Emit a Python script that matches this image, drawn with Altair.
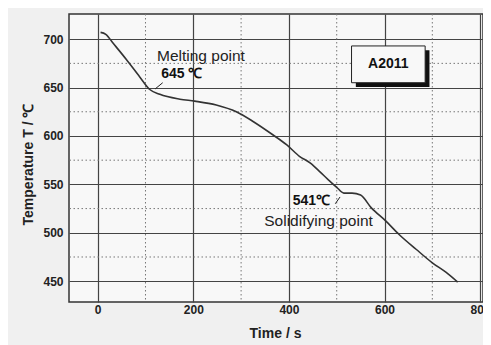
import altair as alt
import pandas as pd

# cooling curve of A2011
times = [6, 17, 32, 60, 88, 109, 130, 172, 203, 248, 290, 325, 367, 395, 422, 445, 465, 482, 500, 515, 532, 550, 572, 603, 631, 666, 700, 729, 753]
temps = [707, 705, 696, 679, 661, 648, 643, 638, 636, 632, 625, 615, 601, 591, 579, 572, 563, 555, 547, 541, 541, 539, 526, 512, 498, 483, 469, 459, 449]

x_major = [0, 200, 400, 600, 800]
x_minor = [100, 300, 500, 700]
y_major = [450, 500, 550, 600, 650, 700]
y_minor = [475, 525, 575, 625, 675]

ann_text = ["Melting point", "645 ℃", "541℃", "Solidifying point"]
ann_x = [216, 176, 447, 462]
ann_y = [683, 664, 533, 512]
ann_bold = [False, True, True, False]

arrow_x = [136, 120, 497, 507]
arrow_y = [655, 648.5, 530, 537]
arrow_id = ["m", "m", "s", "s"]

label_box = dict(x=531, x2=685, y=693, y2=655, text="A2011")

XDOM = [-60, 806]
YDOM = [428.5, 726]

xs = alt.Scale(domain=XDOM, nice=False, zero=False)
ys = alt.Scale(domain=YDOM, nice=False, zero=False)

curve = pd.DataFrame({"t": times, "T": temps})
gx = pd.DataFrame({"v": x_minor})
gy = pd.DataFrame({"v": y_minor})
ann = pd.DataFrame({"x": ann_x, "y": ann_y, "text": ann_text, "bold": ann_bold})
arr = pd.DataFrame({"x": arrow_x, "y": arrow_y, "id": arrow_id})
box = pd.DataFrame([label_box])

xaxis = alt.Axis(values=x_major, grid=True, gridColor="#444", gridWidth=1.2, gridOpacity=1, domain=False,
                 ticks=False, labelFont="Liberation Sans", labelFontSize=12, labelFontWeight="bold",
                 labelColor="#222", labelPadding=2, title="Time  / s", titleFont="Liberation Sans",
                 titleFontSize=14, titleFontWeight="bold", titleColor="#222", titleX=206, titleY=31,
                 titleBaseline="middle", titleAlign="center")
yaxis = alt.Axis(values=y_major, grid=True, gridColor="#444", gridWidth=1.2, gridOpacity=1, domain=False,
                 ticks=False, labelFont="Liberation Sans", labelFontSize=12, labelFontWeight="bold",
                 labelColor="#222", labelPadding=6, title="Temperature T / ℃", titleFont="Liberation Sans",
                 titleFontSize=14, titleFontWeight="bold", titleColor="#222", titleAngle=270,
                 titleX=-41, titleY=150, titleBaseline="middle", titleAlign="center")

base_line = alt.Chart(curve).mark_line(color="#333", strokeWidth=1.6, interpolate="monotone").encode(
    x=alt.X("t:Q", scale=xs, axis=xaxis),
    y=alt.Y("T:Q", scale=ys, axis=yaxis),
)

minor_x = alt.Chart(gx).mark_rule(color="#777", strokeDash=[1.5, 2.5], strokeWidth=1).encode(
    x=alt.X("v:Q", scale=xs))
minor_y = alt.Chart(gy).mark_rule(color="#777", strokeDash=[1.5, 2.5], strokeWidth=1).encode(
    y=alt.Y("v:Q", scale=ys))

shadow = alt.Chart(box).mark_rect(color="#111").encode(
    x=alt.X("x:Q", scale=xs), x2="x2:Q", y=alt.Y("y:Q", scale=ys), y2="y2:Q")
shadow = shadow.transform_calculate(x="datum.x + 9", x2="datum.x2 + 9", y="datum.y - 4.5", y2="datum.y2 - 4.5")
boxr = alt.Chart(box).mark_rect(fill="#f8f8f8", stroke="#222", strokeWidth=1).encode(
    x=alt.X("x:Q", scale=xs), x2="x2:Q", y=alt.Y("y:Q", scale=ys), y2="y2:Q")
boxt = alt.Chart(box).mark_text(font="Liberation Sans", fontSize=14, fontWeight="bold", color="#111").encode(
    x=alt.X("xc:Q", scale=xs), y=alt.Y("yc:Q", scale=ys), text="text:N"
).transform_calculate(xc="(datum.x + datum.x2) / 2", yc="(datum.y + datum.y2) / 2")

ann_normal = alt.Chart(ann).transform_filter("!datum.bold").mark_text(
    font="Liberation Sans", fontSize=15.5, color="#222").encode(
    x=alt.X("x:Q", scale=xs), y=alt.Y("y:Q", scale=ys), text="text:N")
ann_b = alt.Chart(ann).transform_filter("datum.bold").mark_text(
    font="Liberation Sans", fontSize=14, fontWeight="bold", color="#111").encode(
    x=alt.X("x:Q", scale=xs), y=alt.Y("y:Q", scale=ys), text="text:N")

arrows = alt.Chart(arr).mark_line(color="#222", strokeWidth=1).encode(
    x=alt.X("x:Q", scale=xs), y=alt.Y("y:Q", scale=ys), detail="id:N")

chart = alt.layer(minor_x, minor_y, base_line, shadow, boxr, boxt, ann_normal, ann_b, arrows).properties(
    width=414, height=288,
    autosize=alt.AutoSizeParams(type="none"),
    padding={"left": 61, "top": 6, "right": 0, "bottom": 43},
    background="#f0f0f0",
).configure_view(stroke="#333", strokeWidth=1.5, fill="#f8f8f8")

chart.save("out.html", embed_options={"renderer": "svg", "actions": False})
